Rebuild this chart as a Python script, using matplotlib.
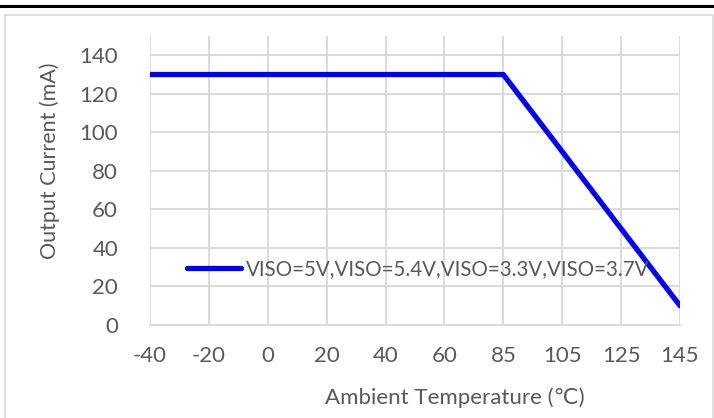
import matplotlib
matplotlib.use("Agg")
import matplotlib.pyplot as plt
from matplotlib.patches import Rectangle
from matplotlib.lines import Line2D

plt.rcParams['font.family'] = ['Lato', 'DejaVu Sans']

# data
temps = ['-40', '-20', '0', '20', '40', '60', '85', '105', '125', '145']
current = [130, 130, 130, 130, 130, 130, 130, 90, 50, 10]
yticks = [0, 20, 40, 60, 80, 100, 120, 140]
series_name = 'VISO=5V,VISO=5.4V,VISO=3.3V,VISO=3.7V'

W, H = 714, 418
fig = plt.figure(figsize=(W / 100, H / 100), dpi=100)

gray = '#595959'
grid = '#D9D9D9'

# chart frame and the black rule at the top
fig.patches.append(Rectangle((5 / W, -0.01), (W - 6) / W, (H - 15) / H + 0.01,
                             transform=fig.transFigure, fill=False,
                             edgecolor=grid, linewidth=1.2))
fig.lines.append(Line2D([0, 1], [1 - 6 / H, 1 - 6 / H], transform=fig.transFigure,
                        color='black', linewidth=2.2))

ax = fig.add_axes([150 / W, (H - 325) / H, 530 / W, 289 / H])
x = list(range(len(temps)))
ax.plot(x, current, color='#0000FF', linewidth=3.8, solid_capstyle='round',
        label=series_name, zorder=3)

ax.set_xlim(0, len(temps) - 1)
ax.set_ylim(0, 150)
ax.set_xticks(x)
ax.set_xticklabels(temps)
ax.set_yticks(yticks)
ax.grid(True, color=grid, linewidth=1.3)
ax.set_axisbelow(True)
for s in ['top', 'right', 'left']:
    ax.spines[s].set_visible(False)
ax.spines['bottom'].set_color(grid)
ax.spines['bottom'].set_linewidth(1.3)
ax.tick_params(length=0, labelsize=16, colors=gray)
ax.tick_params(axis='y', pad=23)
ax.tick_params(axis='x', pad=15)

ax.set_xlabel('Ambient Temperature (℃)', fontsize=16, color=gray)
ax.set_ylabel('Output Current (mA)', fontsize=15.5, color=gray)
ax.xaxis.set_label_coords((455 - 150) / 530, -(387 - 325) / 289)
ax.yaxis.set_label_coords(-(150 - 60) / 530, (325 - 161) / 289)

leg = ax.legend(frameon=False, loc='center left', bbox_to_anchor=(0.07, 0.194),
                borderpad=0, borderaxespad=0, handlelength=2.6, handletextpad=0.25,
                fontsize=14.8)
for t in leg.get_texts():
    t.set_color(gray)

fig.savefig('out.png', dpi=100)
